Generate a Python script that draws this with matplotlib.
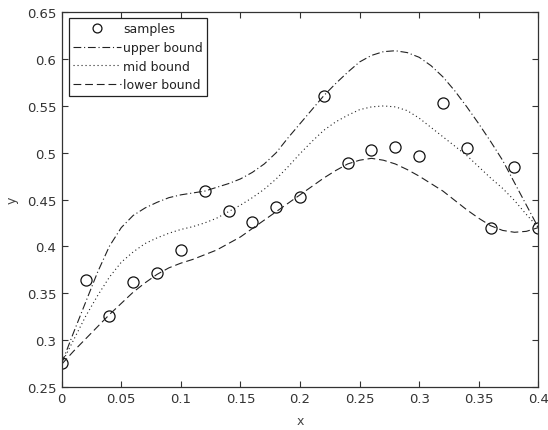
import numpy as np
import matplotlib
matplotlib.use('Agg')
import matplotlib.pyplot as plt
from matplotlib.ticker import FuncFormatter, MultipleLocator

# sample points
x_samples = [0.00, 0.02, 0.04, 0.06, 0.08, 0.10, 0.12, 0.14, 0.16, 0.18, 0.20,
             0.22, 0.24, 0.26, 0.28, 0.30, 0.32, 0.34, 0.36, 0.38, 0.40]
y_samples = [0.275, 0.364, 0.326, 0.362, 0.371, 0.396, 0.459, 0.438, 0.426, 0.442, 0.453,
             0.561, 0.489, 0.503, 0.506, 0.497, 0.553, 0.505, 0.420, 0.485, 0.420]

# bound curves, read every 0.01
x_curve = [i / 100.0 for i in range(41)]
upper = [0.275, 0.308, 0.340, 0.372, 0.400, 0.420, 0.433, 0.441, 0.447, 0.452,
         0.455, 0.457, 0.459, 0.463, 0.467, 0.472, 0.479, 0.488, 0.500, 0.516,
         0.531, 0.546, 0.561, 0.574, 0.586, 0.597, 0.604, 0.608, 0.609, 0.607,
         0.602, 0.593, 0.581, 0.566, 0.549, 0.531, 0.512, 0.492, 0.468, 0.444,
         0.420]
mid = [0.275, 0.300, 0.325, 0.347, 0.367, 0.383, 0.394, 0.403, 0.409, 0.414,
       0.418, 0.421, 0.425, 0.430, 0.437, 0.444, 0.452, 0.461, 0.472, 0.485,
       0.499, 0.512, 0.524, 0.533, 0.540, 0.546, 0.549, 0.550, 0.549, 0.545,
       0.537, 0.527, 0.517, 0.507, 0.497, 0.485, 0.473, 0.462, 0.449, 0.434,
       0.420]
lower = [0.274, 0.288, 0.301, 0.314, 0.327, 0.339, 0.351, 0.361, 0.370, 0.377,
         0.382, 0.386, 0.391, 0.396, 0.403, 0.410, 0.419, 0.428, 0.437, 0.446,
         0.455, 0.464, 0.473, 0.481, 0.488, 0.492, 0.494, 0.492, 0.488, 0.482,
         0.475, 0.467, 0.459, 0.449, 0.439, 0.430, 0.422, 0.417, 0.415, 0.416,
         0.420]

plt.rcParams['font.family'] = 'DejaVu Sans'

fig = plt.figure(figsize=(5.48, 4.31), dpi=100)
ax = fig.add_axes([0.1126, 0.1005, 0.8697, 0.8685])

ax.plot(x_samples, y_samples, 'o', mfc='none', mec='#111111', ms=8, mew=0.9,
        label='samples')
ax.plot(x_curve, upper, color='#222222', lw=0.8, ls=(0, (7, 2.5, 1, 2.5)),
        label='upper bound')
ax.plot(x_curve, mid, color='#222222', lw=0.8, ls=(0, (1, 2.6)),
        label='mid bound')
ax.plot(x_curve, lower, color='#222222', lw=0.8, ls=(0, (7, 3.5)),
        label='lower bound')

ax.set_xlim(0, 0.4)
ax.set_ylim(0.25, 0.65)
ax.xaxis.set_major_locator(MultipleLocator(0.05))
ax.yaxis.set_major_locator(MultipleLocator(0.05))
fmt = FuncFormatter(lambda v, p: '%g' % round(v, 4))
ax.xaxis.set_major_formatter(fmt)
ax.yaxis.set_major_formatter(fmt)
ax.tick_params(direction='in', length=4, width=0.8, top=True, right=True,
               labelsize=9.5, colors='#333333', pad=4)
for s in ax.spines.values():
    s.set_color('#333333')
    s.set_linewidth(0.9)

ax.set_xlabel('x', fontsize=9, color='#444444', labelpad=6)
ax.set_ylabel('y', fontsize=9, color='#444444', labelpad=6)

leg = ax.legend(loc='upper left', bbox_to_anchor=(0.0153, 0.985), borderaxespad=0,
                fontsize=9, fancybox=False, edgecolor='#222222', framealpha=1,
                handlelength=3.8, handletextpad=0.2, labelspacing=0.45,
                borderpad=0.35, markerscale=0.8)
leg.get_frame().set_linewidth(0.9)
for t in leg.get_texts():
    t.set_color('#222222')

fig.savefig('out.png', dpi=100)
